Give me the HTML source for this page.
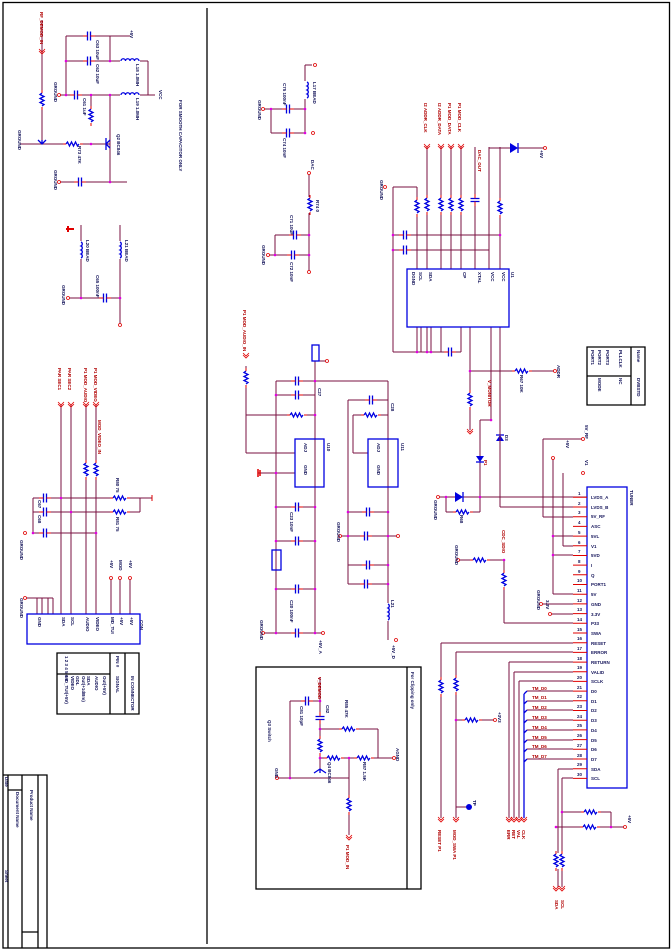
<!DOCTYPE html>
<html><head><meta charset="utf-8"><style>
html,body{margin:0;padding:0;background:#fff}
svg{display:block}
text{font-family:"Liberation Sans",sans-serif;font-size:4.5px;font-weight:bold}
.w{stroke:#7a1040;stroke-width:1;fill:none}
.k{stroke:#000;stroke-width:1.3;fill:none}
.b{stroke:#0000e0;stroke-width:1.3;fill:none}
.r{stroke:#e00000;stroke-width:1;fill:none}
.n{fill:#14145a}
.m{fill:#b00000}
</style></head><body>
<svg width="672" height="951" viewBox="0 0 672 951" xmlns="http://www.w3.org/2000/svg">
<defs>
<g id="rh"><rect x="-8" y="-3" width="16" height="6" fill="#fff"/><path class="b" stroke-width="0.8" d="M-7,0 l1.5,-2 2,4 2,-4 2,4 2,-4 2,4 1.5,-2"/><path class="r" d="M-10,0h3M7,0h3"/></g>
<g id="rv"><rect x="-3" y="-8" width="6" height="16" fill="#fff"/><path class="b" stroke-width="0.8" d="M0,-7 l-2,1.5 4,2 -4,2 4,2 -4,2 4,2 -2,1.5"/><path class="r" d="M0,-10v3M0,7v3"/></g>
<g id="lv"><rect x="-3" y="-9" width="6" height="18" fill="#fff"/><path class="b" stroke-width="0.9" d="M0,-8 a2.2,2.2 0 0 1 0,4 a2.2,2.2 0 0 1 0,4 a2.2,2.2 0 0 1 0,4 a2.2,2.2 0 0 1 0,4"/></g>
<g id="lh"><rect x="-10" y="-3" width="20" height="6" fill="#fff"/><path class="b" stroke-width="0.9" d="M-9,0 a2.2,2.2 0 0 1 4.5,0 a2.2,2.2 0 0 1 4.5,0 a2.2,2.2 0 0 1 4.5,0 a2.2,2.2 0 0 1 4.5,0"/></g>
<g id="ch"><rect x="-3" y="-5" width="6" height="10" fill="#fff"/><path class="b" d="M-1.5,-4.5v9M1.5,-4.5v9"/><path class="r" d="M-6,0h4.5M1.5,0h4.5"/></g>
<g id="cv"><rect x="-5" y="-3" width="10" height="6" fill="#fff"/><path class="b" d="M-4.5,-1.5h9M-4.5,1.5h9"/><path class="r" d="M0,-6v4.5M0,1.5v4.5"/></g>
<g id="ar"><path d="M-3,-3 l3,3 3,-3 M-3,-1 l3,3 3,-3" stroke="#e00000" stroke-width="0.8" fill="none"/></g>
<circle id="dt" r="1.3" fill="#e000e0"/>
<circle id="po" r="1.5" fill="#fff" stroke="#e00000" stroke-width="0.8"/>
</defs>

<!-- borders -->
<rect class="k" x="3" y="2.5" width="666.5" height="945.5"/>
<path class="k" d="M207,8V944"/>
<!-- title block -->
<path class="k" d="M3,775H47V948M8,775V948M22,775V948M38,775V948M8,790H22M22,932H38"/>
<text class="n" transform="translate(30,790) rotate(90)">Product Name</text>
<text class="n" transform="translate(16,792) rotate(90)">Document Name</text>
<text class="n" transform="translate(5,777) rotate(90)">Date</text>
<text class="n" transform="translate(5,870) rotate(90)">Sheet</text>
<!-- table left -->
<path class="k" d="M57,653H139V714H57ZM110,653V714M125,653V714M57,674H110"/>
<text class="n" transform="translate(65,676) rotate(90)">MD_TUI(+5V)</text>
<text class="n" transform="translate(71,676) rotate(90)">VIDEO</text>
<text class="n" transform="translate(76,676) rotate(90)">GDL</text>
<text class="n" transform="translate(82,676) rotate(90)">Out(+1dBm)</text>
<text class="n" transform="translate(87,676) rotate(90)">SDA</text>
<text class="n" transform="translate(95,676) rotate(90)">AUDIO</text>
<text class="n" transform="translate(103,676) rotate(90)">Out(+5V)</text>
<text class="n" transform="translate(116,676) rotate(90)">SIGNAL</text>
<text class="n" transform="translate(116,656) rotate(90)">PIN #</text>
<text class="n" transform="translate(131,676) rotate(90)">IN CONNECTOR</text>
<text class="n" transform="translate(65,656) rotate(90)">1 2 3 4 5 6 7</text>
<!-- table right -->
<path class="k" d="M587,347H645V405H587ZM631,347V405M587,376H631"/>
<text class="n" transform="translate(591,350) rotate(90)">PORT1</text>
<text class="n" transform="translate(598,350) rotate(90)">PORT2</text>
<text class="n" transform="translate(606,350) rotate(90)">PORT3</text>
<text class="n" transform="translate(619,350) rotate(90)">PLLCLK</text>
<text class="n" transform="translate(637,350) rotate(90)">Name</text>
<text class="n" transform="translate(637,378) rotate(90)">DVBSTD</text>
<text class="n" transform="translate(598,378) rotate(90)">MODE</text>
<text class="n" transform="translate(619,378) rotate(90)">NC</text>
<!-- boxes -->
<rect class="k" x="256" y="667" width="165" height="222"/>
<path class="k" d="M407,667V889"/>
<text class="n" transform="translate(411,672) rotate(90)">For Clipping only</text>

<!-- ===== Section A top-left ===== -->
<path class="w" d="M66,36H130M66,61H148M59,95H155M66,36V95M110,36V61M148,61V95M91,95V123M110,95V182M20,144H110M42,20V144M59,182H127M81,225V298M120,225V325M68,298H120"/>
<use href="#ch" x="89" y="36"/><use href="#ch" x="89" y="61"/><use href="#ch" x="76" y="95"/>
<use href="#lh" x="130" y="61"/><use href="#lh" x="130" y="95"/>
<use href="#rv" x="91" y="116"/><use href="#rv" x="42" y="100"/><use href="#rh" x="73" y="144"/>
<use href="#ch" x="80" y="182"/><use href="#lv" x="81" y="250"/><use href="#lv" x="120" y="250"/>
<use href="#ch" x="105" y="298"/>
<path class="b" d="M38,140l4,4 4,-4M42,144v-4M106,138v12M106,144l4,-4M106,144l4,4"/>
<use href="#ar" x="42" y="52"/>
<use href="#dt" x="66" y="61"/><use href="#dt" x="110" y="61"/><use href="#dt" x="66" y="95"/><use href="#dt" x="91" y="95"/><use href="#dt" x="110" y="95"/><use href="#dt" x="91" y="144"/><use href="#dt" x="110" y="182"/><use href="#dt" x="81" y="298"/><use href="#dt" x="120" y="298"/>
<use href="#po" x="59" y="95"/><use href="#po" x="59" y="182"/><use href="#po" x="68" y="298"/><use href="#po" x="120" y="325"/>
<path d="M66,229h8M68,226v6" stroke="#e00000" stroke-width="2"/>
<text class="m" transform="translate(40,12) rotate(90)">RF_DEMOD_IN</text>
<text class="n" transform="translate(179,100) rotate(90)">FOR SMOOTH CAPACITOR ONLY</text>
<text class="n" transform="translate(130,30) rotate(90)">+5V</text>
<text class="n" transform="translate(159,90) rotate(90)">VCC</text>
<text class="n" transform="translate(18,130) rotate(90)">GROUND</text>
<text class="n" transform="translate(54,82) rotate(90)">GROUND</text>
<text class="n" transform="translate(54,170) rotate(90)">GROUND</text>
<text class="n" transform="translate(62,285) rotate(90)">GROUND</text>
<text class="n" transform="translate(96,40) rotate(90)">C63 10uF</text>
<text class="n" transform="translate(96,64) rotate(90)">C62 10uF</text>
<text class="n" transform="translate(83,98) rotate(90)">C61 1uF</text>
<text class="n" transform="translate(136,64) rotate(90)">L18 1.0MH</text>
<text class="n" transform="translate(136,98) rotate(90)">L19 1.0MH</text>
<text class="n" transform="translate(117,134) rotate(90)">Q2 BC846</text>
<text class="n" transform="translate(78,146) rotate(90)">R73 47K</text>
<text class="n" transform="translate(86,240) rotate(90)">L20 BEAD</text>
<text class="n" transform="translate(125,240) rotate(90)">L21 BEAD</text>
<text class="n" transform="translate(96,275) rotate(90)">C65 100nF</text>

<!-- ===== Section B left ===== -->
<path class="w" d="M61,405V614M71,405V614M86,405V614M96,405V614M33,498H152M33,512H140M33,533H96M33,498V533M140,498V512M25,598H53M37,598V614M42,598V614M48,598V614M53,598V614M111,578V614M120,578V614M130,578V614"/>
<use href="#rv" x="86" y="470"/><use href="#rv" x="96" y="470"/>
<use href="#ch" x="45" y="498"/><use href="#ch" x="45" y="512"/><use href="#ch" x="45" y="533"/>
<use href="#rh" x="120" y="498"/><use href="#rh" x="120" y="512"/>
<use href="#ar" x="61" y="405"/><use href="#ar" x="71" y="405"/><use href="#ar" x="86" y="405"/><use href="#ar" x="96" y="405"/>
<use href="#dt" x="61" y="498"/><use href="#dt" x="71" y="512"/><use href="#dt" x="96" y="533"/><use href="#dt" x="33" y="533"/>
<use href="#po" x="25" y="598"/><use href="#po" x="111" y="578"/><use href="#po" x="120" y="578"/><use href="#po" x="130" y="578"/><use href="#po" x="25" y="533"/>
<path class="r" d="M152,495v6"/>
<rect class="b" x="27" y="614" width="113" height="30"/>
<text class="m" transform="translate(58,368) rotate(90)">PAR SEC1</text>
<text class="m" transform="translate(68,368) rotate(90)">PAR SEC2</text>
<text class="m" transform="translate(84,368) rotate(90)">P1 MOD_AUDIO</text>
<text class="m" transform="translate(94,368) rotate(90)">P1 MOD_VIDEO</text>
<text class="m" transform="translate(98,420) rotate(90)">MOD_VIDEO_IN</text>
<text class="n" transform="translate(140,620) rotate(90)">CON</text>
<text class="n" transform="translate(20,540) rotate(90)">GROUND</text>
<text class="n" transform="translate(20,598) rotate(90)">GROUND</text>
<text class="n" transform="translate(110,560) rotate(90)">+5V</text>
<text class="n" transform="translate(119,560) rotate(90)">MOD</text>
<text class="n" transform="translate(129,560) rotate(90)">+5V</text>
<text class="n" transform="translate(38,617) rotate(90)">GND</text>
<text class="n" transform="translate(62,617) rotate(90)">SDA</text>
<text class="n" transform="translate(71,617) rotate(90)">SCL</text>
<text class="n" transform="translate(86,617) rotate(90)">AUDIO</text>
<text class="n" transform="translate(96,617) rotate(90)">VIDEO</text>
<text class="n" transform="translate(111,617) rotate(90)">MD_TUI</text>
<text class="n" transform="translate(120,617) rotate(90)">+5V</text>
<text class="n" transform="translate(130,617) rotate(90)">+5V</text>
<text class="n" transform="translate(38,500) rotate(90)">C67</text>
<text class="n" transform="translate(38,515) rotate(90)">C68</text>
<text class="n" transform="translate(116,478) rotate(90)">R80 75</text>
<text class="n" transform="translate(116,517) rotate(90)">R81 75</text>

<!-- ===== Section C middle-top ===== -->
<path class="w" d="M305,65V133M263,109H305M271,133H305M271,109V133M305,65H312M309,173V272M275,235H309M268,255H309M275,235V255"/>
<use href="#lv" x="307" y="90"/><use href="#ch" x="288" y="109"/><use href="#ch" x="288" y="133"/>
<use href="#rv" x="310" y="205"/><use href="#ch" x="295" y="235"/><use href="#ch" x="293" y="255"/>
<use href="#po" x="263" y="109"/><use href="#po" x="268" y="255"/><use href="#po" x="309" y="173"/><use href="#po" x="309" y="272"/><use href="#po" x="313" y="133"/><use href="#po" x="315" y="65"/>
<use href="#dt" x="271" y="109"/><use href="#dt" x="305" y="109"/><use href="#dt" x="305" y="133"/><use href="#dt" x="309" y="235"/><use href="#dt" x="309" y="255"/><use href="#dt" x="275" y="255"/>
<text class="n" transform="translate(258,100) rotate(90)">GROUND</text>
<text class="n" transform="translate(262,245) rotate(90)">GROUND</text>
<text class="n" transform="translate(313,82) rotate(90)">L17 BEAD</text>
<text class="n" transform="translate(283,83) rotate(90)">C75 100nF</text>
<text class="n" transform="translate(283,138) rotate(90)">C74 10nF</text>
<text class="n" transform="translate(316,200) rotate(90)">R74 0</text>
<text class="n" transform="translate(290,215) rotate(90)">C71 10uF</text>
<text class="n" transform="translate(290,262) rotate(90)">C72 10nF</text>
<text class="n" transform="translate(311,160) rotate(90)">DAC</text>

<!-- main IC -->
<path class="w" d="M417,187V269M427,147V269M441,147V269M451,147V269M461,147V269M475,147V269M489,147V269M500,147V269M393,187H417M393,187V352M393,235H500M393,250H489M489,148H510M500,148V160"/>
<path class="w" d="M417,327V352M421,327V352M427,327V352M431,327V352M441,327V352M393,352H461M461,327V352M470,327V430M491,327V420M500,327V507M470,371H555M480,420H491M480,420V512M438,497H587M446,512H480M446,497V512M500,507H587"/>
<path class="w" d="M510,148H545"/>
<rect class="b" x="407" y="269" width="102" height="58"/>
<use href="#rv" x="417" y="207"/><use href="#rv" x="427" y="205"/><use href="#rv" x="441" y="205"/><use href="#rv" x="451" y="205"/><use href="#rv" x="461" y="205"/><use href="#rv" x="500" y="208"/>
<use href="#cv" x="475" y="200"/><use href="#ch" x="405" y="235"/><use href="#ch" x="405" y="250"/><use href="#ch" x="450" y="352"/>
<use href="#rh" x="522" y="371"/><use href="#rv" x="470" y="400"/><use href="#rh" x="463" y="512"/>
<path fill="#0000e0" d="M510,143l8,5 -8,5Z"/><path class="b" d="M518,143v10"/>
<path fill="#0000e0" d="M455,492l8,5 -8,5Z"/><path class="b" d="M463,492v10"/>
<path fill="#0000e0" d="M476,456l4,6 4,-6Z"/><path class="b" d="M476,462h8"/>
<path fill="#0000e0" d="M496,441l4,-6 4,6Z"/><path class="b" d="M496,435h8"/>
<use href="#ar" x="427" y="147"/><use href="#ar" x="441" y="147"/><use href="#ar" x="451" y="147"/><use href="#ar" x="461" y="147"/><use href="#ar" x="470" y="432"/>
<use href="#po" x="385" y="187"/><use href="#po" x="545" y="148"/><use href="#po" x="555" y="371"/><use href="#po" x="438" y="497"/>
<use href="#dt" x="393" y="235"/><use href="#dt" x="393" y="250"/><use href="#dt" x="417" y="352"/><use href="#dt" x="427" y="352"/><use href="#dt" x="431" y="352"/><use href="#dt" x="470" y="371"/><use href="#dt" x="491" y="420"/><use href="#dt" x="480" y="497"/><use href="#dt" x="500" y="235"/><use href="#dt" x="446" y="497"/>
<text class="m" transform="translate(424,103) rotate(90)">I2 ADDR_CLK</text>
<text class="m" transform="translate(438,103) rotate(90)">I2 ADDR_DATA</text>
<text class="m" transform="translate(448,103) rotate(90)">P1 MOD_DATA</text>
<text class="m" transform="translate(458,103) rotate(90)">P1 MOD_CLK</text>
<text class="m" transform="translate(478,150) rotate(90)">DAC_OUT</text>
<text class="m" transform="translate(488,380) rotate(90)">V_MONITOR</text>
<text class="m" transform="translate(484,460) rotate(90)">P1</text>
<text class="n" transform="translate(412,272) rotate(90)">DGND</text>
<text class="n" transform="translate(511,272) rotate(90)">U1</text>
<text class="n" transform="translate(380,180) rotate(90)">GROUND</text>
<text class="n" transform="translate(419,272) rotate(90)">SCL</text>
<text class="n" transform="translate(429,272) rotate(90)">SDA</text>
<text class="n" transform="translate(463,272) rotate(90)">CP</text>
<text class="n" transform="translate(478,272) rotate(90)">XTAL</text>
<text class="n" transform="translate(491,272) rotate(90)">VCC</text>
<text class="n" transform="translate(502,272) rotate(90)">VCC</text>
<text class="n" transform="translate(540,150) rotate(90)">+5V</text>
<text class="n" transform="translate(557,365) rotate(90)">ADDR</text>
<text class="n" transform="translate(520,375) rotate(90)">R67 10K</text>
<text class="n" transform="translate(434,500) rotate(90)">GROUND</text>
<text class="n" transform="translate(460,515) rotate(90)">R68</text>
<text class="n" transform="translate(505,435) rotate(90)">D3</text>

<!-- ===== Section D regulators ===== -->
<path class="w" d="M276,381V633M315,361V633M276,381H388M388,381V640M348,400V584M348,400H388M353,415H388M353,415V453M353,453H368M246,366V453M246,415H315M246,453H295M276,395H315M258,473H295M276,507H315M276,541H315M276,589H315M263,633H323M348,512H388M340,536H398M348,565H388M348,584H388M315,361H327M246,366V380"/>
<rect class="b" x="295" y="439" width="29" height="48"/><rect class="b" x="368" y="439" width="30" height="48"/>
<rect class="b" x="272" y="550" width="9" height="20"/>
<rect class="b" x="312" y="345" width="7" height="16"/>
<use href="#ch" x="371" y="400"/><use href="#rh" x="371" y="415"/><use href="#rh" x="297" y="415"/><use href="#ch" x="297" y="381"/><use href="#ch" x="297" y="395"/>
<use href="#ch" x="297" y="507"/><use href="#ch" x="297" y="541"/><use href="#ch" x="297" y="589"/><use href="#ch" x="297" y="633"/>
<use href="#ch" x="368" y="512"/><use href="#ch" x="366" y="536"/><use href="#ch" x="368" y="565"/><use href="#ch" x="366" y="584"/>
<use href="#lv" x="388" y="612"/><use href="#rv" x="246" y="378"/><use href="#ar" x="246" y="356"/>
<path d="M258,469v8M260,470v6" stroke="#e00000" stroke-width="1.5"/>
<use href="#po" x="263" y="633"/><use href="#po" x="323" y="633"/><use href="#po" x="340" y="536"/><use href="#po" x="398" y="536"/><use href="#po" x="396" y="640"/><use href="#po" x="327" y="361"/>
<use href="#dt" x="276" y="395"/><use href="#dt" x="315" y="381"/><use href="#dt" x="315" y="415"/><use href="#dt" x="276" y="473"/><use href="#dt" x="276" y="507"/><use href="#dt" x="315" y="507"/><use href="#dt" x="276" y="541"/><use href="#dt" x="315" y="541"/><use href="#dt" x="276" y="589"/><use href="#dt" x="315" y="589"/><use href="#dt" x="276" y="633"/><use href="#dt" x="315" y="633"/><use href="#dt" x="348" y="512"/><use href="#dt" x="388" y="512"/><use href="#dt" x="348" y="536"/><use href="#dt" x="388" y="536"/><use href="#dt" x="388" y="565"/><use href="#dt" x="388" y="584"/>
<text class="m" transform="translate(243,310) rotate(90)">P1 MOD_AUDIO_IN</text>
<text class="n" transform="translate(304,443) rotate(90)">ADJ</text>
<text class="n" transform="translate(377,443) rotate(90)">ADJ</text>
<text class="n" transform="translate(304,465) rotate(90)">GND</text>
<text class="n" transform="translate(377,465) rotate(90)">GND</text>
<text class="n" transform="translate(327,443) rotate(90)">U10</text>
<text class="n" transform="translate(401,443) rotate(90)">U11</text>
<text class="n" transform="translate(260,620) rotate(90)">GROUND</text>
<text class="n" transform="translate(337,522) rotate(90)">GROUND</text>
<text class="n" transform="translate(290,600) rotate(90)">C20 100nF</text>
<text class="n" transform="translate(290,512) rotate(90)">C23 10nF</text>
<text class="n" transform="translate(318,388) rotate(90)">C27</text>
<text class="n" transform="translate(391,403) rotate(90)">C28</text>
<text class="n" transform="translate(391,600) rotate(90)">L21</text>
<text class="n" transform="translate(319,640) rotate(90)">+5V_A</text>
<text class="n" transform="translate(392,645) rotate(90)">+5V_D</text>

<!-- ===== Section E bottom box circuit ===== -->
<path class="w" d="M320,677V739M290,701H320M290,701V778M320,729H378M378,729V758M320,739V769M320,758H394M349,758V835M277,778H349"/>
<use href="#ch" x="307" y="701"/><use href="#cv" x="320" y="718"/><use href="#rh" x="349" y="729"/><use href="#rv" x="320" y="746"/><use href="#rh" x="334" y="758"/><use href="#rh" x="364" y="758"/><use href="#rv" x="349" y="805"/>
<path class="b" d="M314,773l6,-4 6,4M320,769v4"/>
<use href="#ar" x="349" y="838"/><use href="#po" x="277" y="778"/><use href="#po" x="394" y="758"/>
<use href="#dt" x="320" y="701"/><use href="#dt" x="320" y="729"/><use href="#dt" x="320" y="758"/><use href="#dt" x="349" y="758"/><use href="#dt" x="290" y="778"/>
<text class="m" transform="translate(318,677) rotate(90)">V_DEMOD</text>
<text class="m" transform="translate(346,845) rotate(90)">P1 MOD_IN</text>
<text class="n" transform="translate(275,768) rotate(90)">GND</text>
<text class="n" transform="translate(268,720) rotate(90)">Q3 Switch</text>
<text class="n" transform="translate(300,706) rotate(90)">C81 10pF</text>
<text class="n" transform="translate(326,705) rotate(90)">C82</text>
<text class="n" transform="translate(345,700) rotate(90)">R85 47K</text>
<text class="n" transform="translate(328,762) rotate(90)">Q4 BC846</text>
<text class="n" transform="translate(363,762) rotate(90)">R87 1.5K</text>
<text class="n" transform="translate(396,748) rotate(90)">AGND</text>

<!-- ===== Connector ===== -->
<rect class="b" x="587" y="487" width="40" height="301"/>
<g class="r">
<path d="M573,497.3h14M573,507h14M573,516.7h14M573,526.4h14M573,536.1h14M573,545.8h14M573,555.5h14M573,565.1h14M573,574.8h14M573,584.5h14M573,594.2h14M573,603.9h14M573,613.6h14M573,623.3h14M573,633h14M573,642.7h14M573,652.4h14M573,662.1h14M573,671.8h14M573,681.4h14M573,691.1h14M573,700.8h14M573,710.5h14M573,720.2h14M573,729.9h14M573,739.6h14M573,749.3h14M573,759h14M573,768.7h14M573,778.4h14"/>
</g>
<path class="w" d="M543,439H583M543,439V517M553,458V594M553,536H573M553,555H573M563,473V546M543,517H573M563,546H573M553,594H573M504,560V623M504,623H573M458,560H504M541,604H573M550,614H573M441,643H573M441,643V818M456,652H573M456,652V818M456,720H495M456,807H469M509,662H573M509,662V818M514,672H573M514,672V818M519,681H573M519,681V818M558,769H573M558,769V887M562,778H573M562,778V887M562,812H611M556,827H625M611,812V827M500,507V420"/>
<path class="w" d="M527,691H573M527,701H573M527,710H573M527,720H573M527,730H573M527,740H573M527,749H573M527,759H573"/>
<path class="b" d="M524,694V818M524,694l3,-3M524,704l3,-3M524,713l3,-3M524,723l3,-3M524,733l3,-3M524,743l3,-3M524,752l3,-3M524,762l3,-3"/>
<use href="#rh" x="480" y="560"/><use href="#rv" x="504" y="580"/><use href="#rv" x="441" y="687"/><use href="#rv" x="456" y="685"/><use href="#rh" x="472" y="720"/>
<use href="#rh" x="591" y="812"/><use href="#rh" x="590" y="827"/><use href="#rv" x="556" y="861"/><use href="#rv" x="562" y="861"/>
<circle cx="469" cy="807" r="3" fill="#0000e0"/>
<use href="#ar" x="441" y="820"/><use href="#ar" x="456" y="820"/><use href="#ar" x="509" y="820"/><use href="#ar" x="514" y="820"/><use href="#ar" x="519" y="820"/><use href="#ar" x="524" y="820"/><use href="#ar" x="556" y="889"/><use href="#ar" x="562" y="889"/>
<use href="#po" x="583" y="439"/><use href="#po" x="553" y="458"/><use href="#po" x="583" y="473"/><use href="#po" x="458" y="560"/><use href="#po" x="541" y="604"/><use href="#po" x="550" y="614"/><use href="#po" x="495" y="720"/><use href="#po" x="625" y="827"/>
<use href="#dt" x="553" y="536"/><use href="#dt" x="553" y="555"/><use href="#dt" x="504" y="560"/><use href="#dt" x="456" y="720"/><use href="#dt" x="562" y="812"/><use href="#dt" x="556" y="827"/><use href="#dt" x="611" y="827"/>
<g class="n">
<text x="591" y="499">LVDS_A</text><text x="591" y="509">LVDS_B</text><text x="591" y="518">5V_RF</text><text x="591" y="528">ASC</text><text x="591" y="538">5VL</text><text x="591" y="548">V1</text><text x="591" y="557">5VD</text><text x="591" y="567">I</text><text x="591" y="577">Q</text><text x="591" y="586">PORT1</text><text x="591" y="596">5V</text><text x="591" y="606">GND</text><text x="591" y="616">3.3V</text><text x="591" y="625">P33</text><text x="591" y="635">SWA</text><text x="591" y="645">RESET</text><text x="591" y="654">ERROR</text><text x="591" y="664">RETURN</text><text x="591" y="674">VALID</text><text x="591" y="683">SCLK</text><text x="591" y="693">D0</text><text x="591" y="703">D1</text><text x="591" y="712">D2</text><text x="591" y="722">D3</text><text x="591" y="732">D4</text><text x="591" y="742">D5</text><text x="591" y="751">D6</text><text x="591" y="761">D7</text><text x="591" y="771">SDA</text><text x="591" y="780">SCL</text>
</g>
<g class="n" font-size="3.5">
<text x="578" y="495">1</text><text x="578" y="505">2</text><text x="578" y="514">3</text><text x="578" y="524">4</text><text x="578" y="534">5</text><text x="578" y="544">6</text><text x="578" y="553">7</text><text x="578" y="563">8</text><text x="578" y="573">9</text><text x="577" y="582">10</text><text x="577" y="592">11</text><text x="577" y="602">12</text><text x="577" y="611">13</text><text x="577" y="621">14</text><text x="577" y="631">15</text><text x="577" y="640">16</text><text x="577" y="650">17</text><text x="577" y="660">18</text><text x="577" y="669">19</text><text x="577" y="679">20</text><text x="577" y="689">21</text><text x="577" y="698">22</text><text x="577" y="708">23</text><text x="577" y="718">24</text><text x="577" y="727">25</text><text x="577" y="737">26</text><text x="577" y="747">27</text><text x="577" y="757">28</text><text x="577" y="766">29</text><text x="577" y="776">30</text>
</g>
<g class="m">
<text x="532" y="690">TM_D0</text><text x="532" y="699">TM_D1</text><text x="532" y="709">TM_D2</text><text x="532" y="719">TM_D3</text><text x="532" y="729">TM_D4</text><text x="532" y="739">TM_D5</text><text x="532" y="748">TM_D6</text><text x="532" y="758">TM_D7</text>
<text transform="translate(502,530) rotate(90)">CDC_SDIO</text>
<text transform="translate(453,830) rotate(90)">MOD_SWA P1</text>
<text transform="translate(438,830) rotate(90)">RESET P1</text>
<text transform="translate(507,830) rotate(90)">ERR</text>
<text transform="translate(512,830) rotate(90)">RET</text>
<text transform="translate(517,830) rotate(90)">VAL</text>
<text transform="translate(522,830) rotate(90)">CLK</text>
<text transform="translate(555,900) rotate(90)">SDA</text>
<text transform="translate(561,900) rotate(90)">SCL</text>
</g>
<text class="n" transform="translate(630,490) rotate(90)">TUNER</text>
<text class="n" transform="translate(585,425) rotate(90)">5V_RF</text>
<text class="n" transform="translate(566,440) rotate(90)">+5V</text>
<text class="n" transform="translate(585,460) rotate(90)">V1</text>
<text class="n" transform="translate(455,545) rotate(90)">GROUND</text>
<text class="n" transform="translate(537,590) rotate(90)">GROUND</text>
<text class="n" transform="translate(546,600) rotate(90)">3.3V</text>
<text class="n" transform="translate(498,712) rotate(90)">+3V3</text>
<text class="n" transform="translate(628,815) rotate(90)">+5V</text>
<text class="n" transform="translate(473,800) rotate(90)">TP</text>
</svg>
</body></html>
